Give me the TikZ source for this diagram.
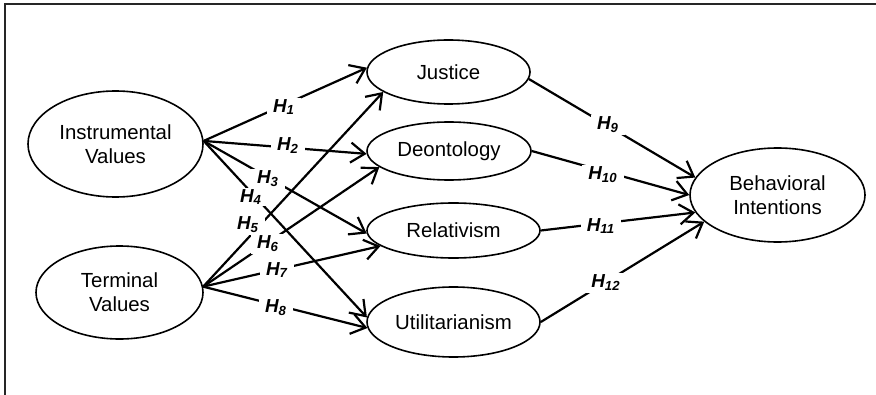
\documentclass[tikz,border=0pt]{standalone}
\usepackage{fontspec}
\setmainfont{Liberation Sans}
\usetikzlibrary{shapes.geometric,arrows.meta}
\begin{document}
\begin{tikzpicture}[x=0.5pt,y=-0.5pt,
 ell/.style={draw, ellipse, line width=0.8pt, inner sep=0pt, align=center, font=\fontsize{10.2}{12.2}\selectfont},
 conn/.style={line width=1.1pt, -{Straight Barb[length=7pt,width=10pt,line width=1.1pt]}},
 hlbl/.style={fill=white, inner xsep=3pt, inner ysep=0.8pt, font=\fontsize{9.4}{10}\selectfont\bfseries\itshape}]
\useasboundingbox (0,0) rectangle (876,395);
\draw[line width=1pt, black!85] (5,395) -- (5,4) -- (876,4);
% nodes
\node[ell, minimum width=87.5pt, minimum height=53pt] (IV) at (115.5,144) {Instrumental\\Values};
\node[ell, minimum width=83.5pt, minimum height=46.5pt] (TV) at (119.5,292.5) {Terminal\\Values};
\node[ell, minimum width=81.5pt, minimum height=32pt] (J) at (448.5,72) {Justice};
\node[ell, minimum width=82pt, minimum height=29pt] (D) at (449,151) {Deontology};
\node[ell, minimum width=86.5pt, minimum height=27.5pt] (R) at (453.5,230.5) {Relativism};
\node[ell, minimum width=86.5pt, minimum height=35pt] (U) at (453.5,322) {Utilitarianism};
\node[ell, minimum width=87.5pt, minimum height=47pt] (BI) at (777.5,195) {Behavioral\\Intentions};
% connectors
\draw[conn] (IV.2) -- (J.177);
\draw[conn] (IV.2) -- (D.182);
\draw[conn] (IV.2) -- (R.182);
\draw[conn] (IV.2) -- (U.177);
\draw[conn] (TV.4) -- (J.197);
\draw[conn] (TV.4) -- (D.193);
\draw[conn] (TV.4) -- (R.192);
\draw[conn] (TV.4) -- (U.184);
\draw[conn] (J.355) -- (BI.168);
\draw[conn] (D.east) -- (BI.180);
\draw[conn] (R.east) -- (BI.192);
\draw[conn] (U.east) -- (BI.200);
% labels
\node[hlbl] (h1) at (284,107) {H\textsubscript{1}};
\node[hlbl] (h2) at (288,146) {H\textsubscript{2}};
\node[hlbl] (h3) at (268,179) {H\textsubscript{3}};
\node[hlbl] (h4) at (251,197) {H\textsubscript{4}};
\node[hlbl] (h6) at (268,244) {H\textsubscript{6}};
\node[hlbl] (h5) at (248,225) {H\textsubscript{5}};
\node[hlbl] (h7) at (277,270) {H\textsubscript{7}};
\node[hlbl] (h8) at (276,308) {H\textsubscript{8}};
\node[hlbl] (h9) at (608,125) {H\textsubscript{9}};
\node[hlbl] (h10) at (603,175) {H\textsubscript{10}};
\node[hlbl] (h11) at (601,226) {H\textsubscript{11}};
\node[hlbl] (h12) at (606,283) {H\textsubscript{12}};
\end{tikzpicture}
\end{document}
